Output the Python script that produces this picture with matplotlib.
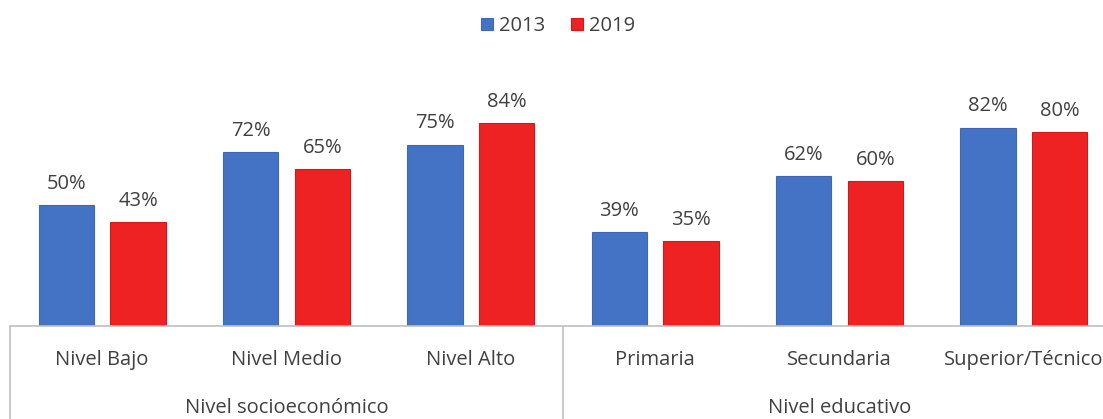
import matplotlib.pyplot as plt
import numpy as np
from matplotlib.transforms import blended_transform_factory

plt.rcParams["font.family"] = ["Open Sans", "DejaVu Sans"]

categories = ["Nivel Bajo", "Nivel Medio", "Nivel Alto",
              "Primaria", "Secundaria", "Superior/Técnico"]
groups = ["Nivel socioeconómico", "Nivel educativo"]
group_sizes = [3, 3]
vals_2013 = [50, 72, 75, 39, 62, 82]
vals_2019 = [43, 65, 84, 35, 60, 80]
series = ["2013", "2019"]

blue = "#4472C4"
red = "#EE2222"
txt = "#404040"
fs = 14.5

W, H = 1103, 419
fig = plt.figure(figsize=(W / 100, H / 100), dpi=100)
# axis spans past the right edge, like the cropped original
ax = fig.add_axes([10 / W, 1 - 326 / H, 1106 / W, 242 / H])

x = np.arange(len(categories))
w = 0.30
b1 = ax.bar(x - 0.195, vals_2013, w, color=blue, edgecolor="#3F68B5", linewidth=0.8, label=series[0])
b2 = ax.bar(x + 0.195, vals_2019, w, color=red, edgecolor="#D01A1A", linewidth=0.8, label=series[1])
for b in (b1, b2):
    ax.bar_label(b, labels=[f"{v}%" for v in b.datavalues], padding=8,
                 fontsize=fs, color=txt)

ax.set_xlim(-0.5, len(categories) - 0.5)
ax.set_ylim(0, 100)
for s in ["top", "right", "left"]:
    ax.spines[s].set_visible(False)
ax.spines["bottom"].set_color("#BFBFBF")
ax.spines["bottom"].set_linewidth(1.2)
ax.set_yticks([])
ax.set_xticks(x)
ax.set_xticklabels(categories, fontsize=fs, color=txt)
ax.tick_params(axis="x", length=0, pad=17)

# group separators and labels
tr = blended_transform_factory(ax.transData, ax.transAxes)
edges = np.concatenate([[0], np.cumsum(group_sizes)]) - 0.5
for e in edges:
    ax.plot([e, e], [0, -0.4], color="#BFBFBF", lw=1.2, transform=tr, clip_on=False)
for i, g in enumerate(groups):
    mid = (edges[i] + edges[i + 1]) / 2
    ax.text(mid, -82 / 242, g, transform=tr, ha="center", va="center",
            fontsize=fs, color=txt)

leg = fig.legend(loc="center", bbox_to_anchor=(558 / W, 1 - 26 / H), ncol=2,
                 frameon=False, fontsize=fs, handlelength=0.6, handleheight=0.6,
                 handletextpad=0.3, columnspacing=1.3)
for t in leg.get_texts():
    t.set_color(txt)

fig.savefig("out.png", dpi=100)
